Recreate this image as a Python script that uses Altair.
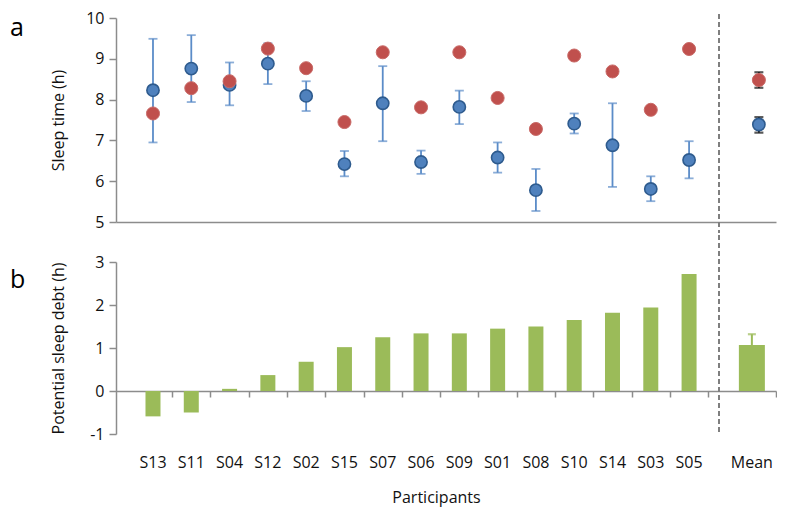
import altair as alt
import pandas as pd

# ---- data ----
participants = ["S13", "S11", "S04", "S12", "S02", "S15", "S07", "S06",
                "S09", "S01", "S08", "S10", "S14", "S03", "S05"]
observed = [8.23, 8.76, 8.36, 8.88, 8.09, 6.42, 7.91, 6.47, 7.82, 6.58, 5.78, 7.41, 6.88, 5.81, 6.52]
obs_upper = [9.49, 9.58, 8.91, 9.38, 8.45, 6.74, 8.82, 6.75, 8.22, 6.95, 6.30, 7.66, 7.91, 6.12, 6.98]
obs_lower = [6.95, 7.94, 7.86, 8.38, 7.72, 6.12, 6.98, 6.18, 7.40, 6.21, 5.27, 7.17, 5.86, 5.51, 6.07]
optimal = [7.66, 8.28, 8.45, 9.25, 8.77, 7.45, 9.16, 7.81, 9.16, 8.04, 7.28, 9.08, 8.69, 7.75, 9.24]
sleep_debt = [-0.59, -0.50, 0.05, 0.37, 0.68, 1.02, 1.25, 1.34, 1.34, 1.45, 1.50, 1.65, 1.82, 1.94, 2.72]

mean_label = ["Mean"]
mean_observed = [7.39]
mean_obs_lower = [7.19]
mean_obs_upper = [7.57]
mean_optimal = [8.48]
mean_opt_lower = [8.29]
mean_opt_upper = [8.67]
mean_debt = [1.07]
mean_debt_upper = [1.32]

yticks_a = [5, 6, 7, 8, 9, 10]
yticks_b = [-1, 0, 1, 2, 3]

# ---- layout / style ----
W, HA, HB = 660, 204, 172
XMIN, XMAX = -0.966, 16.27
MEAN_POS = 15.64
DIV_POS = 14.78
FONT = "Open Sans"
AXIS_GRAY = "#8c8c8c"
BLUE, BLUE_EDGE = "#4F81BD", "#2E5B8E"
ERR_BLUE = "#5B8CC8"
RED = "#C0504D"
GREEN = "#9BBB59"

n = len(participants)
df = pd.DataFrame({
    "pos": list(range(n)),
    "participant": participants,
    "observed": observed,
    "obs_upper": obs_upper,
    "obs_lower": obs_lower,
    "optimal": optimal,
    "debt": sleep_debt,
})
dm = pd.DataFrame({
    "pos": [MEAN_POS],
    "participant": mean_label,
    "observed": mean_observed,
    "obs_lower": mean_obs_lower,
    "obs_upper": mean_obs_upper,
    "optimal": mean_optimal,
    "opt_lower": mean_opt_lower,
    "opt_upper": mean_opt_upper,
    "debt": mean_debt,
    "debt_upper": mean_debt_upper,
})
boundaries = [i + 0.5 for i in range(n)] + [XMAX]

xscale = alt.Scale(domain=[XMIN, XMAX], nice=False, zero=False, padding=0)

# ================= panel a =================
base_a = alt.Chart(df)
x_a = alt.X("pos:Q", scale=xscale,
            axis=alt.Axis(labels=False, ticks=False, title=None, grid=False,
                          domainColor=AXIS_GRAY, domainWidth=1.5))
yscale_a = alt.Scale(domain=[5, 10], nice=False, zero=False)
y_axis_a = alt.Axis(values=yticks_a, grid=False, title="Sleep time (h)",
                    titleX=-58, titleY=HA / 2, titleBaseline="middle",
                    titleFontSize=16, titleFontWeight="normal", titleColor="#111",
                    labelFontSize=16, labelColor="#111", labelPadding=5,
                    tickSize=7, tickColor=AXIS_GRAY, domainColor=AXIS_GRAY,
                    domainWidth=1.5, tickWidth=1.5)

divider_a = alt.Chart(df).mark_rule(color="#7f7f7f", strokeDash=[5, 3], strokeWidth=1.5).encode(
    x=alt.datum(DIV_POS), y=alt.value(-4), y2=alt.value(HA + 11))

err_a = base_a.mark_rule(color=ERR_BLUE, strokeWidth=1.8).encode(
    x=x_a, y=alt.Y("obs_lower:Q", scale=yscale_a, axis=y_axis_a), y2="obs_upper:Q")
cap_lo_a = base_a.mark_tick(color=ERR_BLUE, orient="horizontal", size=9, thickness=1.8).encode(
    x="pos:Q", y="obs_lower:Q")
cap_hi_a = base_a.mark_tick(color=ERR_BLUE, orient="horizontal", size=9, thickness=1.8).encode(
    x="pos:Q", y="obs_upper:Q")
blue_pts = base_a.mark_point(filled=True, fill=BLUE, stroke=BLUE_EDGE, strokeWidth=1.6,
                             size=150, opacity=1).encode(x="pos:Q", y="observed:Q")
red_pts = base_a.mark_point(filled=True, fill=RED, stroke="#c96a67", strokeWidth=1,
                            size=170, opacity=1).encode(x="pos:Q", y="optimal:Q")

base_m = alt.Chart(dm)
m_err_blue = base_m.mark_rule(color="#111", strokeWidth=1.8, xOffset=7).encode(
    x="pos:Q", y="obs_lower:Q", y2="obs_upper:Q")
m_err_red = base_m.mark_rule(color="#111", strokeWidth=1.8, xOffset=7).encode(
    x="pos:Q", y="opt_lower:Q", y2="opt_upper:Q")
m_caps = [
    base_m.mark_tick(color="#111", orient="horizontal", size=9, thickness=2.2, xOffset=7).encode(
        x="pos:Q", y=f"{c}:Q")
    for c in ["obs_lower", "obs_upper", "opt_lower", "opt_upper"]
]
m_blue = base_m.mark_point(filled=True, fill=BLUE, stroke=BLUE_EDGE, strokeWidth=1.6,
                           size=150, opacity=1, xOffset=7).encode(x="pos:Q", y="observed:Q")
m_red = base_m.mark_point(filled=True, fill=RED, stroke="#c96a67", strokeWidth=1,
                          size=170, opacity=1, xOffset=7).encode(x="pos:Q", y="optimal:Q")

label_a = alt.Chart(pd.DataFrame({"t": ["a"]})).mark_text(
    align="left", baseline="alphabetic", fontSize=25, font=FONT, color="#000").encode(
    x=alt.value(-106), y=alt.value(18), text="t:N")

panel_a = alt.layer(
    divider_a, err_a, cap_lo_a, cap_hi_a, blue_pts, red_pts,
    m_err_blue, m_err_red, *m_caps, m_blue, m_red, label_a
).properties(width=W, height=HA)

# ================= panel b =================
base_b = alt.Chart(df)
x_b = alt.X("pos:Q", scale=xscale,
            axis=alt.Axis(values=boundaries, labels=False, grid=False,
                          offset=-HB / 4, tickSize=6, tickColor=AXIS_GRAY, tickWidth=1.5,
                          domainColor=AXIS_GRAY, domainWidth=1.5,
                          title="Participants", titleX=320, titleY=HB / 4 + 63,
                          titleBaseline="middle", titleFontSize=16,
                          titleFontWeight="normal", titleColor="#111"))
yscale_b = alt.Scale(domain=[-1, 3], nice=False)
y_axis_b = alt.Axis(values=yticks_b, grid=False, title="Potential sleep debt (h)",
                    titleX=-58, titleY=HB / 2, titleBaseline="middle",
                    titleFontSize=16, titleFontWeight="normal", titleColor="#111",
                    labelFontSize=16, labelColor="#111", labelPadding=5,
                    labelExpr="'' + datum.value",
                    tickSize=7, tickColor=AXIS_GRAY, domainColor=AXIS_GRAY,
                    domainWidth=1.5, tickWidth=1.5)

divider_b = alt.Chart(df).mark_rule(color="#7f7f7f", strokeDash=[5, 3], strokeWidth=1.5).encode(
    x=alt.datum(DIV_POS), y=alt.value(-27), y2=alt.value(HB))
bars = base_b.mark_bar(color=GREEN, width=15).encode(
    x=x_b, y=alt.Y("debt:Q", scale=yscale_b, axis=y_axis_b))
m_bar = base_m.mark_bar(color=GREEN, width=26).encode(x="pos:Q", y="debt:Q")
m_bar_err = base_m.mark_rule(color=GREEN, strokeWidth=2).encode(
    x="pos:Q", y="debt:Q", y2="debt_upper:Q")
m_bar_cap = base_m.mark_tick(color=GREEN, orient="horizontal", size=8, thickness=2.2).encode(
    x="pos:Q", y="debt_upper:Q")
cat_labels = base_b.mark_text(fontSize=16, font=FONT, color="#111", baseline="middle").encode(
    x="pos:Q", y=alt.value(HB + 29), text="participant:N")
mean_text = base_m.mark_text(fontSize=16, font=FONT, color="#111", baseline="middle").encode(
    x="pos:Q", y=alt.value(HB + 29), text="participant:N")
label_b = alt.Chart(pd.DataFrame({"t": ["b"]})).mark_text(
    align="left", baseline="alphabetic", fontSize=25, font=FONT, color="#000").encode(
    x=alt.value(-106), y=alt.value(26), text="t:N")

panel_b = alt.layer(
    divider_b, bars, m_bar, m_bar_err, m_bar_cap, cat_labels, mean_text, label_b
).properties(width=W, height=HB)

chart = alt.vconcat(panel_a, panel_b, spacing=0).properties(
    padding={"left": 2, "top": 2, "right": 0, "bottom": 3}
).configure(font=FONT).configure_view(stroke=None).configure_axis(
    labelFont=FONT, titleFont=FONT)

chart.save("out.html", embed_options={"renderer": "svg", "actions": False})
